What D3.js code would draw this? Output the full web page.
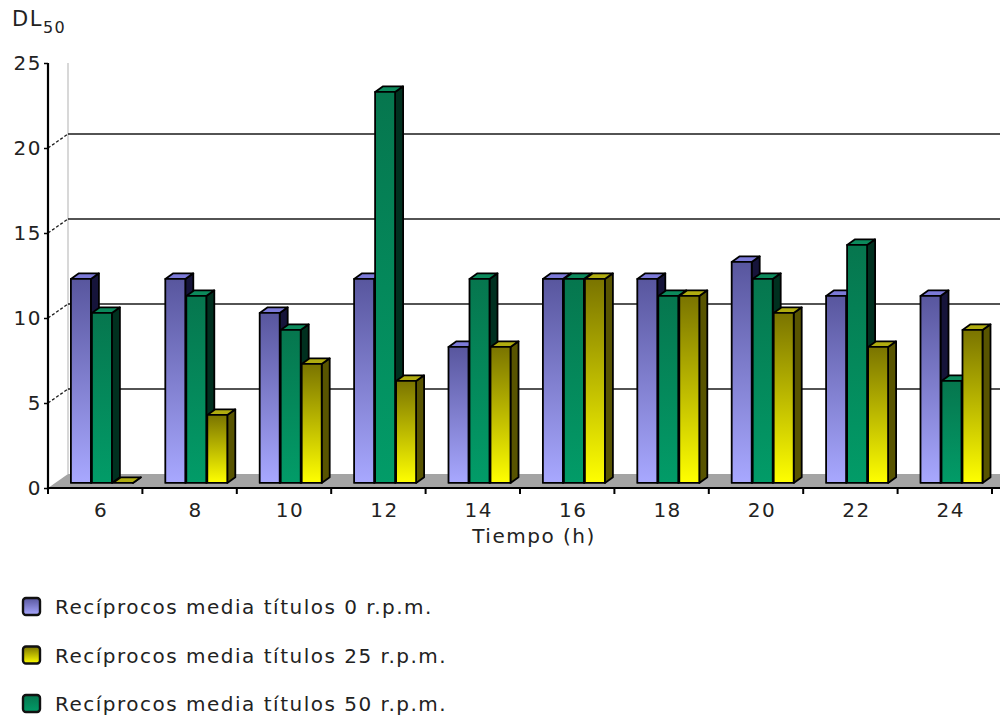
<!DOCTYPE html>
<html>
<head>
<meta charset="utf-8">
<script src="https://cdn.jsdelivr.net/npm/d3@7/dist/d3.min.js"></script>
<style>
  html, body { margin: 0; padding: 0; background: #fff; }
  svg { display: block; }
  text { font-family: "DejaVu Sans", Verdana, sans-serif; fill: #222; letter-spacing: 1.5px; }
</style>
</head>
<body>
<svg id="chart" width="1000" height="721"></svg>
<script>
// Hours after infection
const categories = ["6", "8", "10", "12", "14", "16", "18", "20", "22", "24"];
// Reciprocal mean titres per agitation speed
const rpm0  = [12, 12, 10, 12, 8, 12, 12, 13, 11, 11];
const rpm25 = [0, 4, 7, 6, 8, 12, 11, 10, 8, 9];
const rpm50 = [10, 11, 9, 23, 12, 12, 11, 12, 14, 6];
const seriesNames = [
  "Recíprocos media títulos 0 r.p.m.",
  "Recíprocos media títulos 25 r.p.m.",
  "Recíprocos media títulos 50 r.p.m."
];
const yTicks = [0, 5, 10, 15, 20, 25];

// Series as drawn inside each group (left to right) and as listed in the legend
const series = [
  { key: "s0",  name: seriesNames[0], values: rpm0 },
  { key: "s25", name: seriesNames[1], values: rpm25 },
  { key: "s50", name: seriesNames[2], values: rpm50 }
];
const barOrder = ["s0", "s50", "s25"];

const styles = {
  s0:  { top: "#58569e", bottom: "#a8a8ff", cap: "#7c7ad8", side: "#16143a" },
  s50: { top: "#06764e", bottom: "#029c68", cap: "#0c8a5c", side: "#00301f" },
  s25: { top: "#7a7400", bottom: "#ffff00", cap: "#b0ac10", side: "#585400" }
};

const svg = d3.select("#chart");

// Front plane geometry and 3D depth of the plot box
const X0 = 48, X1 = 992, FLOOR = 488;
const WALL_DX = 20, WALL_DY = -14;         // back wall offset
const BAR_Z0 = 0.36, BAR_Z1 = 0.76;        // bar front/back depth (fraction of wall depth)

const x = d3.scaleBand().domain(categories).range([X0, X1]);
const groupW = 63;
const xInner = d3.scaleBand().domain(barOrder).range([0, groupW]);
const y = d3.scaleLinear().domain([0, 25]).range([FLOOR, 63]);

const proj = (px, py, z) => [px + WALL_DX * z, py + WALL_DY * z];

// Gradients for bar front faces and legend keys
const defs = svg.append("defs");
Object.entries(styles).forEach(([k, s]) => {
  const g = defs.append("linearGradient").attr("id", "grad-" + k)
    .attr("x1", 0).attr("y1", 0).attr("x2", 0).attr("y2", 1);
  g.append("stop").attr("offset", "0%").attr("stop-color", s.top);
  g.append("stop").attr("offset", "100%").attr("stop-color", s.bottom);
});

// Back wall edge
svg.append("line")
  .attr("x1", X0 + WALL_DX).attr("x2", X0 + WALL_DX)
  .attr("y1", y(25)).attr("y2", FLOOR + WALL_DY)
  .attr("stroke", "#d8d8d8").attr("stroke-width", 2);

// Floor
const fl = [proj(X0, FLOOR, 0), proj(1000, FLOOR, 0), proj(1000, FLOOR, 1), proj(X0, FLOOR, 1)];
svg.append("polygon")
  .attr("points", fl.map(p => p.join(",")).join(" "))
  .attr("fill", "#a4a4a4");

// Gridlines on the back wall with dashed links to the front axis
const gridVals = yTicks.filter(v => v > 0 && v < 25);
svg.append("g").selectAll("line").data(gridVals).join("line")
  .attr("x1", X0 + WALL_DX).attr("x2", 1000)
  .attr("y1", d => y(d) + WALL_DY).attr("y2", d => y(d) + WALL_DY)
  .attr("stroke", "#1a1a1a").attr("stroke-width", 1.3);
svg.append("g").selectAll("line").data(gridVals).join("line")
  .attr("x1", X0).attr("y1", d => y(d))
  .attr("x2", X0 + WALL_DX).attr("y2", d => y(d) + WALL_DY)
  .attr("stroke", "#1a1a1a").attr("stroke-width", 1.3)
  .attr("stroke-dasharray", "3,2");

// Bars, drawn left to right so each front face covers its neighbour's side
const bars = [];
categories.forEach((c, i) => {
  barOrder.forEach(k => {
    const s = series.find(d => d.key === k);
    bars.push({ cat: c, key: k, value: s.values[i] });
  });
});

const barG = svg.append("g");
bars.forEach(b => {
  const st = styles[b.key];
  const left = x(b.cat) + (x.bandwidth() - groupW) / 2 + xInner(b.key);
  const right = left + xInner.bandwidth() - 1;
  const yb = FLOOR, yt = y(b.value);
  const fBL = proj(left, yb, BAR_Z0), fBR = proj(right, yb, BAR_Z0);
  const fTL = proj(left, yt, BAR_Z0), fTR = proj(right, yt, BAR_Z0);
  const bBR = proj(right, yb, BAR_Z1), bTR = proj(right, yt, BAR_Z1), bTL = proj(left, yt, BAR_Z1);
  const pts = a => a.map(p => p.join(",")).join(" ");
  const g = barG.append("g").attr("stroke", "#000").attr("stroke-width", 1.8)
    .attr("stroke-linejoin", "round");
  g.append("polygon").attr("points", pts([fBR, bBR, bTR, fTR])).attr("fill", st.side);
  g.append("polygon").attr("points", pts([fTL, fTR, bTR, bTL])).attr("fill", st.cap);
  if (b.value > 0) {
    g.append("rect")
      .attr("x", fTL[0]).attr("y", fTL[1])
      .attr("width", fTR[0] - fTL[0]).attr("height", fBL[1] - fTL[1])
      .attr("fill", `url(#grad-${b.key})`);
  }
});

// Y axis
const yAxis = d3.axisLeft(y).tickValues(yTicks).tickSize(4).tickPadding(2);
const yG = svg.append("g").attr("transform", `translate(${X0},0)`).call(yAxis);
yG.select(".domain").remove();
yG.selectAll(".tick line").attr("stroke", "#000").attr("stroke-width", 1.5);
yG.selectAll(".tick text").attr("font-size", 20).attr("fill", "#222");
svg.append("line").attr("x1", X0).attr("x2", X0)
  .attr("y1", y(25)).attr("y2", FLOOR + 2)
  .attr("stroke", "#000").attr("stroke-width", 2.2);

// X axis: front edge, group separators and category labels
svg.append("line").attr("x1", X0).attr("x2", 1000)
  .attr("y1", FLOOR).attr("y2", FLOOR)
  .attr("stroke", "#000").attr("stroke-width", 2.2);
const seps = d3.range(categories.length + 1).map(i => X0 + i * x.step());
svg.append("g").selectAll("line").data(seps).join("line")
  .attr("x1", d => d).attr("x2", d => d)
  .attr("y1", FLOOR).attr("y2", FLOOR + 6)
  .attr("stroke", "#000").attr("stroke-width", 2);

const xAxis = d3.axisBottom(x).tickSize(0).tickPadding(15);
const xG = svg.append("g").attr("transform", `translate(6,${FLOOR})`).call(xAxis);
xG.select(".domain").remove();
xG.selectAll(".tick text").attr("font-size", 20).attr("fill", "#222");

// Axis titles
svg.append("text").attr("x", 534).attr("y", 543)
  .attr("text-anchor", "middle").attr("font-size", 20).text("Tiempo (h)");
const dl = svg.append("text").attr("x", 12).attr("y", 26).attr("font-size", 21);
dl.append("tspan").text("DL");
dl.append("tspan").attr("font-size", 16).attr("dy", 7).text("50");

// Legend
const legend = svg.append("g").selectAll("g").data(series).join("g")
  .attr("transform", (d, i) => `translate(23,${598 + i * 48.5})`);
legend.append("rect")
  .attr("width", 17).attr("height", 17).attr("rx", 3)
  .attr("fill", d => `url(#grad-${d.key})`)
  .attr("stroke", "#111").attr("stroke-width", 2.4);
legend.append("text").attr("x", 32).attr("y", 16)
  .attr("font-size", 20).text(d => d.name);
</script>
</body>
</html>
